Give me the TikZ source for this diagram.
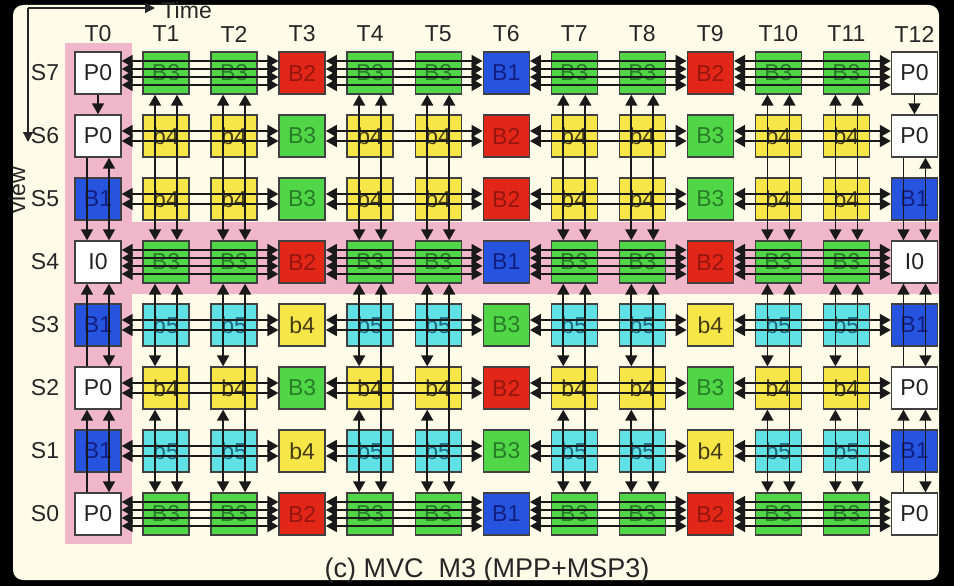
\documentclass[tikz,border=0pt]{standalone}
\usepackage{fontspec}
\setmainfont{Liberation Sans}
\usetikzlibrary{arrows.meta}

\definecolor{cream}{RGB}{254,252,232}
\definecolor{bandpink}{RGB}{240,182,202}
\definecolor{fP0}{RGB}{255,255,255}
\definecolor{tP0}{RGB}{35,35,35}
\colorlet{fI0}{fP0}
\colorlet{tI0}{tP0}
\definecolor{fB1}{RGB}{38,84,222}
\definecolor{tB1}{RGB}{18,30,130}
\definecolor{fB2}{RGB}{226,38,24}
\definecolor{tB2}{RGB}{150,22,16}
\definecolor{fB3}{RGB}{80,214,70}
\definecolor{tB3}{RGB}{40,125,40}
\definecolor{fb4}{RGB}{246,230,72}
\definecolor{tb4}{RGB}{70,60,20}
\definecolor{fb5}{RGB}{96,226,228}
\definecolor{tb5}{RGB}{30,105,130}

\tikzset{
    frm/.style={draw=black!75, line width=1.4pt, minimum width=46pt, minimum height=42pt,
        inner sep=0pt, font=\fontsize{23}{25}\selectfont},
    lbl/.style={font=\fontsize{23}{25}\selectfont, text=black!85},
    ref/.style={line width=1.8pt, black!90},
    refs/.style={ref, {Triangle[length=11pt,width=12pt]}-{Triangle[length=11pt,width=12pt]}},
    reft/.style={ref, -{Triangle[length=11pt,width=12pt]}},
    axis/.style={line width=1.3pt, black!85, -{Triangle[length=10pt,width=10pt]}}
}

\begin{document}
\begin{tikzpicture}[x=1pt, y=-1pt]
    \useasboundingbox (0,0) rectangle (954,586);
    \clip (0,0) rectangle (954,586);
    \fill[black] (0,0) rectangle (954,586);
    \fill[cream, rounded corners=10pt] (13,5) rectangle (939,580);

    % Highlighted view and time
    \fill[bandpink] (65,43) rectangle (132,544);
    \fill[bandpink] (132,222) rectangle (939,294);

    % Axes
    \coordinate (origin) at (28,8);
    \coordinate (tend) at (155,8);
    \coordinate (vend) at (28,142);
    \draw[axis] (origin) -- (tend);
    \draw[axis] (origin) -- (vend);
    \node[lbl, anchor=base west] (timelbl) at (158,19) {Time};
    \node[lbl, rotate=90] (viewlbl) at (17,190) {view};

    % Labels
    \foreach \c in {0,...,12}
        \node[lbl] (t\c) at ({98+68.04*\c},34) {T\c};
    \foreach \s in {0,...,7}
        \node[lbl] (s\s) at (45,{73+63*(7-\s)}) {S\s};

    % Frames
    \foreach \s/\row in {
        7/{P0,B3,B3,B2,B3,B3,B1,B3,B3,B2,B3,B3,P0},
        6/{P0,b4,b4,B3,b4,b4,B2,b4,b4,B3,b4,b4,P0},
        5/{B1,b4,b4,B3,b4,b4,B2,b4,b4,B3,b4,b4,B1},
        4/{I0,B3,B3,B2,B3,B3,B1,B3,B3,B2,B3,B3,I0},
        3/{B1,b5,b5,b4,b5,b5,B3,b5,b5,b4,b5,b5,B1},
        2/{P0,b4,b4,B3,b4,b4,B2,b4,b4,B3,b4,b4,P0},
        1/{B1,b5,b5,b4,b5,b5,B3,b5,b5,b4,b5,b5,B1},
        0/{P0,B3,B3,B2,B3,B3,B1,B3,B3,B2,B3,B3,P0}} {
        \foreach \f [count=\c from 0] in \row
            \node[frm, fill=f\f, text=t\f] (n\s-\c) at ({98+68.04*\c},{73+63*(7-\s)}) {\f};
    }

    % Temporal references
    \foreach \s/\offs in {7/{-12,-4,4,12}, 6/{-5,5}, 5/{-5,5}, 4/{-12,-4,4,12},
                          3/{-5,5}, 2/{-5,5}, 1/{-5,5}, 0/{-12,-4,4,12}} {
        \foreach \a/\b in {0/3, 3/6, 6/9, 9/12}
            \foreach \d in \offs
                \draw[refs] ([yshift=\d pt]n\s-\a.east) -- ([yshift=\d pt]n\s-\b.west);
    }

    % Inter-view references
    \foreach \c in {1,2,4,5,7,8,10,11} {
        \foreach \d in {-11,11}
            \draw[refs] ([xshift=\d pt]n7-\c.south) -- ([xshift=\d pt]n4-\c.north);
        \draw[refs] ([xshift=-11pt]n4-\c.south) -- ([xshift=-11pt]n2-\c.north);
        \draw[refs] ([xshift=-11pt]n2-\c.south) -- ([xshift=-11pt]n0-\c.north);
        \draw[refs] ([xshift=11pt]n4-\c.south) -- ([xshift=11pt]n0-\c.north);
    }
    \foreach \c in {0,12} {
        \draw[reft] (n7-\c.south) -- (n6-\c.north);
        \draw[refs] ([xshift=11pt]n6-\c.south) -- ([xshift=11pt]n4-\c.north);
        \draw[refs] ([xshift=11pt]n4-\c.south) -- ([xshift=11pt]n2-\c.north);
        \draw[refs] ([xshift=11pt]n2-\c.south) -- ([xshift=11pt]n0-\c.north);
        \draw[reft] ([xshift=-11pt]n6-\c.south) -- ([xshift=-11pt]n4-\c.north);
        \draw[reft] ([xshift=-11pt]n2-\c.north) -- ([xshift=-11pt]n4-\c.south);
        \draw[reft] ([xshift=-11pt]n0-\c.north) -- ([xshift=-11pt]n2-\c.south);
    }

    \node[font=\fontsize{27}{29}\selectfont, text=black!85, anchor=base] (caption) at (487,577)
        {(c) MVC\ \ M3 (MPP+MSP3)};
\end{tikzpicture}
\end{document}
